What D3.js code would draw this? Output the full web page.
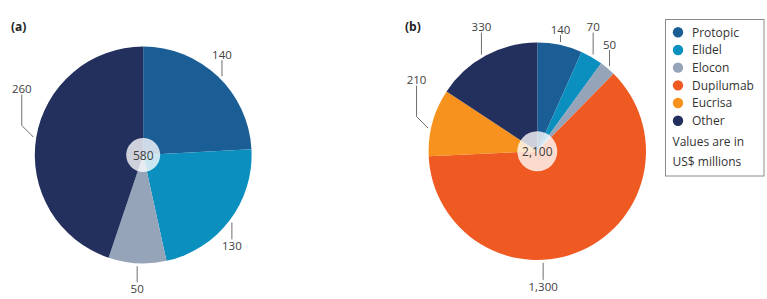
<!DOCTYPE html>
<html>
<head>
<meta charset="utf-8">
<script src="https://cdn.jsdelivr.net/npm/d3@7"></script>
<style>
  html, body { margin: 0; padding: 0; background: #fff; }
  svg { display: block; }
  text { font-family: "Open Sans", "Noto Sans", sans-serif; }
</style>
</head>
<body>
<svg id="chart" width="767" height="299"></svg>
<script>
// ---- data ----
const drugs = ["Protopic", "Elidel", "Elocon", "Dupilumab", "Eucrisa", "Other"];
const drugColors = ["#1b5e96", "#0b8fbe", "#95a4b9", "#ef5a23", "#f7921e", "#232f5c"];

const catsA = ["Protopic", "Elidel", "Elocon", "Other"];
const valuesA = [140, 130, 50, 260];

const catsB = ["Protopic", "Elidel", "Elocon", "Dupilumab", "Eucrisa", "Other"];
const valuesB = [140, 70, 50, 1300, 210, 330];

const legendNote = ["Values are in", "US$ millions"];

// ---- layout (leader lines: angle in degrees, null = slice middle) ----
const leadersA = [
  { angle: 45, len: 16 },
  { angle: null, len: 17, },
  { angle: null, len: 16 },
  { angle: null, len: 31, elbow: 11.5 }
];
const leadersB = [
  { angle: null, len: 7 },
  { angle: null, len: 22 },
  { angle: null, len: 16 },
  { angle: 177, len: 17 },
  { angle: 282, len: 31, elbow: 11.5 },
  { angle: 330, len: 22 }
];

const color = d3.scaleOrdinal().domain(drugs).range(drugColors);
const fmt = d3.format(",");
const svg = d3.select("#chart");

function drawPie(opts) {
  const { cats, values, leaders, cx, cy, r, hole, tag, tagX } = opts;
  const data = cats.map((c, i) => ({ name: c, value: values[i], leader: leaders[i] }));
  const pie = d3.pie().value(d => d.value).sort(null);
  const arc = d3.arc().innerRadius(0).outerRadius(r);
  const arcs = pie(data);

  svg.append("text")
    .attr("x", tagX).attr("y", 31)
    .attr("font-size", 12).attr("font-weight", 700)
    .attr("fill", "#222")
    .text(tag);

  const g = svg.append("g").attr("transform", `translate(${cx},${cy})`);

  g.selectAll("path.slice")
    .data(arcs)
    .enter().append("path")
    .attr("class", "slice")
    .attr("d", arc)
    .attr("fill", d => color(d.data.name));

  // leader lines + value labels
  const lab = g.selectAll("g.lab").data(arcs).enter().append("g").attr("class", "lab");
  lab.each(function(d) {
    const L = d.data.leader;
    const a = L.angle == null ? (d.startAngle + d.endAngle) / 2 : L.angle * Math.PI / 180;
    const rr = r + 3;
    const x0 = rr * Math.sin(a), y0 = -rr * Math.cos(a);
    const up = y0 < 0;
    const dir = up ? -1 : 1;
    let pts = [[x0, y0]];
    let x1 = x0, y1 = y0;
    if (L.elbow) {
      x1 = x0 + (x0 < 0 ? -L.elbow : L.elbow);
      y1 = y0 + dir * L.elbow;
      pts.push([x1, y1]);
    }
    const y2 = y1 + dir * L.len;
    pts.push([x1, y2]);

    const sel = d3.select(this);
    sel.append("path")
      .attr("d", d3.line()(pts))
      .attr("fill", "none")
      .attr("stroke", "#6f6f6f")
      .attr("stroke-width", 1);
    sel.append("text")
      .attr("x", x1)
      .attr("y", up ? y2 - 1.5 : y2 + 11)
      .attr("text-anchor", "middle")
      .attr("font-size", 11.5)
      .attr("fill", "#404040")
      .text(fmt(d.data.value));
  });

  // total in the middle
  g.append("circle")
    .attr("r", hole)
    .attr("fill", "#fff")
    .attr("fill-opacity", 0.78);
  g.append("text")
    .attr("y", 4.5)
    .attr("text-anchor", "middle")
    .attr("font-size", 12)
    .attr("fill", "#404040")
    .text(fmt(d3.sum(values)));
}

drawPie({ cats: catsA, values: valuesA, leaders: leadersA, cx: 143.2, cy: 155, r: 108.4, hole: 17, tag: "(a)", tagX: 11 });
drawPie({ cats: catsB, values: valuesB, leaders: leadersB, cx: 537.3, cy: 151.3, r: 108.7, hole: 20, tag: "(b)", tagX: 405 });

// ---- legend ----
const leg = svg.append("g");
leg.append("rect")
  .attr("x", 665.5).attr("y", 19.5)
  .attr("width", 98.5).attr("height", 156.5)
  .attr("fill", "#fff")
  .attr("stroke", "#8a8a8a")
  .attr("stroke-width", 1);

const rowY = d3.scalePoint().domain(drugs).range([32.3, 120.7]);
const items = leg.selectAll("g.item").data(drugs).enter().append("g").attr("class", "item")
  .attr("transform", d => `translate(0,${rowY(d)})`);
items.append("circle")
  .attr("cx", 678).attr("r", 5.2)
  .attr("fill", d => color(d));
items.append("text")
  .attr("x", 692).attr("y", 4.3)
  .attr("font-size", 12)
  .attr("fill", "#333")
  .text(d => d);

leg.selectAll("text.note").data(legendNote).enter().append("text")
  .attr("class", "note")
  .attr("x", 672.5)
  .attr("y", (d, i) => 146 + i * 20)
  .attr("font-size", 12)
  .attr("fill", "#333")
  .text(d => d);
</script>
</body>
</html>
